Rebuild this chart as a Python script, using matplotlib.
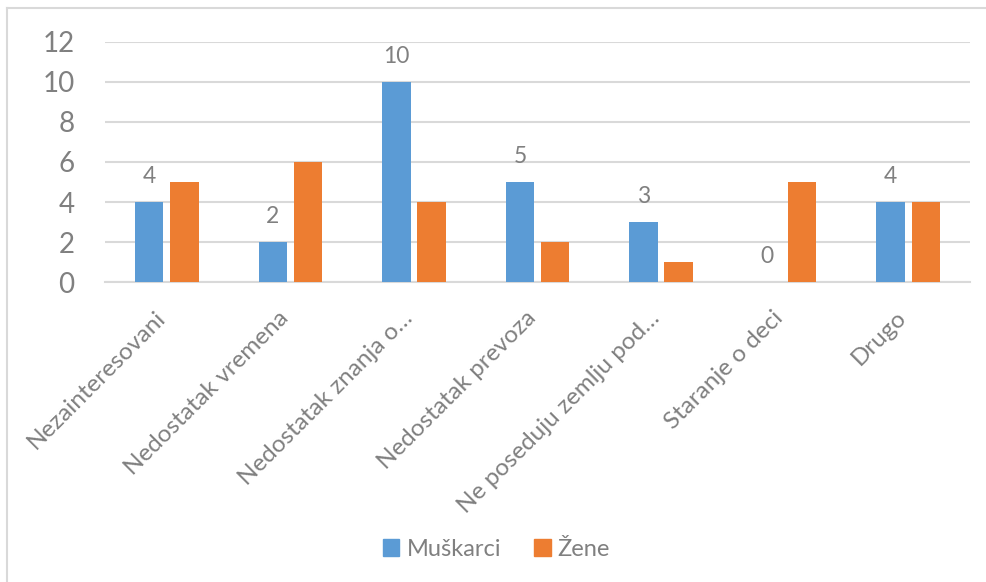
import numpy as np
from matplotlib import pyplot as plt
from matplotlib.lines import Line2D
from matplotlib.patches import Patch

categories = ['Nezainteresovani', 'Nedostatak vremena', 'Nedostatak znanja o…',
              'Nedostatak prevoza', 'Ne poseduju zemlju pod…', 'Staranje o deci', 'Drugo']
muskarci = [4, 2, 10, 5, 3, 0, 4]
zene = [5, 6, 4, 2, 1, 5, 4]
yticks = [0, 2, 4, 6, 8, 10, 12]

blue = '#5B9BD5'
orange = '#ED7D31'
gray = '#808080'
grid = '#D9D9D9'

plt.rcParams['font.family'] = ['Lato', 'DejaVu Sans']

fig = plt.figure(figsize=(9.87, 5.82), dpi=100)
ax = fig.add_axes([105/987, 1-282/582, 865/987, 240/582])

x = np.arange(len(categories))
w = 0.23
off = 0.142
ax.bar(x - off, muskarci, w, color=blue, label='Muškarci', zorder=3)
ax.bar(x + off, zene, w, color=orange, label='Žene', zorder=3)

for xi, v in zip(x, muskarci):
    ax.annotate(str(v), (xi - off, v), xytext=(0, 11), textcoords='offset points',
                ha='center', va='bottom', fontsize=16.5, color=gray)

ax.set_xlim(-0.5, len(categories) - 0.5)
ax.set_ylim(0, 12)
ax.set_yticks(yticks)
ax.set_yticklabels([str(t) for t in yticks], fontsize=20, color=gray)
ax.yaxis.grid(True, color=grid, linewidth=1.5, zorder=0)
ax.set_axisbelow(True)
for s in ['top', 'right', 'left']:
    ax.spines[s].set_visible(False)
ax.spines['bottom'].set_color(grid)
ax.spines['bottom'].set_linewidth(1.5)
ax.tick_params(axis='both', length=0)
ax.tick_params(axis='y', pad=22)

ax.set_xticks(x - 0.1)
ax.set_xticklabels(categories, rotation=45, ha='right', va='top',
                   rotation_mode='anchor', fontsize=17.5, color=gray)
ax.tick_params(axis='x', pad=18)

handles = [Patch(color=blue), Patch(color=orange)]
fig.legend(handles, ['Muškarci', 'Žene'], loc='center', bbox_to_anchor=(0.503, 1-549/582),
           ncol=2, frameon=False, fontsize=17, labelcolor=gray,
           handlelength=0.7, handleheight=0.7, handletextpad=0.3, columnspacing=1.4)

# chart frame (partly cropped)
fig.add_artist(Line2D([7/987, 7/987], [0, 1-8/582], color=grid, linewidth=1.5))
fig.add_artist(Line2D([7/987, 1], [1-8/582, 1-8/582], color=grid, linewidth=1.5))

fig.savefig('out.png', dpi=100)
